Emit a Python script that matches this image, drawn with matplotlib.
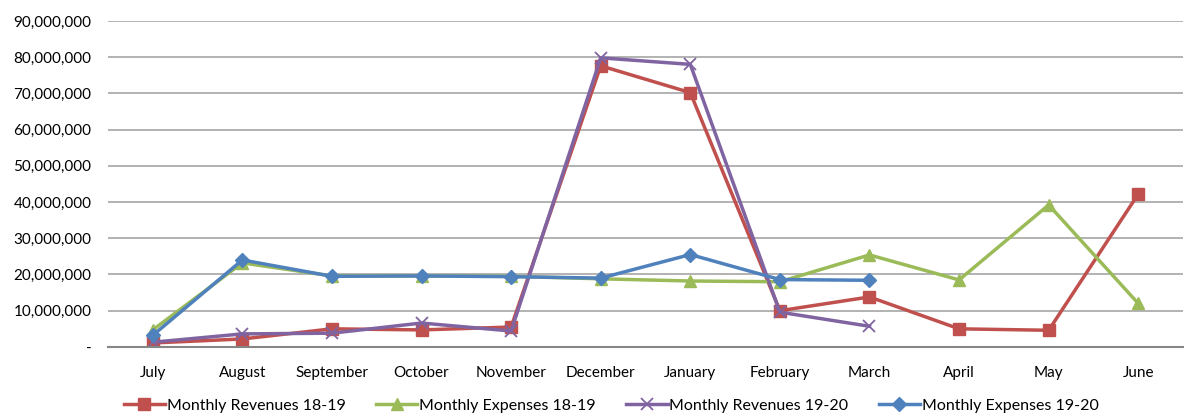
import numpy as np
import matplotlib.pyplot as plt
from matplotlib.ticker import FuncFormatter

# data
months = ["July", "August", "September", "October", "November", "December",
          "January", "February", "March", "April", "May", "June"]
rev_1819 = [1.1e6, 2.2e6, 5.0e6, 4.7e6, 5.5e6, 77.6e6, 70.2e6, 10.0e6, 13.8e6, 5.0e6, 4.6e6, 42.2e6]
exp_1819 = [4.7e6, 23.2e6, 19.6e6, 19.6e6, 19.5e6, 18.8e6, 18.2e6, 18.0e6, 25.4e6, 18.5e6, 39.2e6, 12.0e6]
rev_1920 = [1.3e6, 3.6e6, 3.8e6, 6.6e6, 4.4e6, 79.8e6, 78.0e6, 9.6e6, 5.7e6]
exp_1920 = [3.2e6, 24.0e6, 19.5e6, 19.6e6, 19.4e6, 19.0e6, 25.5e6, 18.6e6, 18.4e6]

plt.rcParams['font.family'] = ['Lato', 'DejaVu Sans']

fig = plt.figure(figsize=(11.84, 4.18), dpi=100)
ax = fig.add_axes([0.0912, 0.17, 0.908, 0.78])

x = np.arange(len(months))
ax.plot(x, rev_1819, color="#C0504D", lw=2.5, marker="s", ms=8, label="Monthly Revenues 18-19")
ax.plot(x, exp_1819, color="#9BBB59", lw=2.5, marker="^", ms=9, label="Monthly Expenses 18-19")
ax.plot(x[:len(rev_1920)], rev_1920, color="#8064A2", lw=2.5, marker="x", ms=9, mew=1.3,
        label="Monthly Revenues 19-20")
ax.plot(x[:len(exp_1920)], exp_1920, color="#4F81BD", lw=2.5, marker="D", ms=7, label="Monthly Expenses 19-20")

ax.set_xlim(-0.5, len(months) - 0.5)
ax.set_ylim(0, 90e6)
ax.set_yticks(np.arange(0, 90e6 + 1, 10e6))
ax.yaxis.set_major_formatter(FuncFormatter(lambda v, p: "-" if v == 0 else f"{v:,.0f}"))
ax.set_xticks(x)
ax.set_xticklabels(months)
ax.tick_params(length=0, labelsize=11, colors="black")
ax.tick_params(axis="x", pad=14)
ax.tick_params(axis="y", pad=12)

ax.grid(axis="y", color="#A6A6A6", lw=1.2)
ax.set_axisbelow(True)
for s in ["left", "right", "top"]:
    ax.spines[s].set_visible(False)
ax.spines["bottom"].set_color("#868686")
ax.spines["bottom"].set_linewidth(1.5)

ax.legend(loc="upper center", bbox_to_anchor=(0.468, -0.115), ncol=4, frameon=False,
          fontsize=11.5, handlelength=2.6, columnspacing=1.9, handletextpad=0.1)

fig.savefig("out.png", dpi=100)
